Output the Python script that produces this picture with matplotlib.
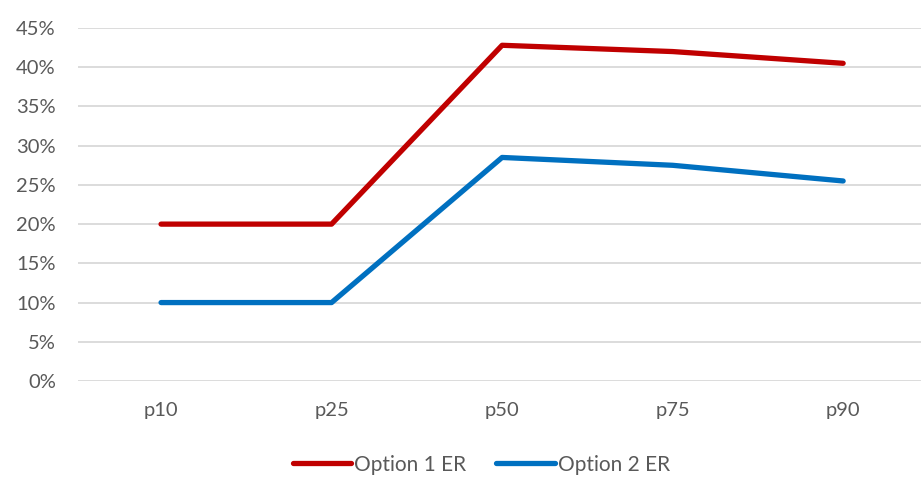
import matplotlib
matplotlib.use("Agg")
import matplotlib.pyplot as plt
from matplotlib.ticker import FuncFormatter, MultipleLocator

percentiles = ["p10", "p25", "p50", "p75", "p90"]
option1_er = [20.0, 20.0, 42.8, 42.0, 40.5]
option2_er = [10.0, 10.0, 28.5, 27.5, 25.5]

TEXT = "#595959"
GRID = "#D9D9D9"

plt.rcParams["font.family"] = ["Lato", "DejaVu Sans"]

fig = plt.figure(figsize=(9.22, 4.84), dpi=100)
ax = fig.add_axes([0.0846, 0.2128, 0.9144, 0.7293])

x = range(len(percentiles))
ax.plot(x, option1_er, color="#C00000", lw=3.8, solid_capstyle="round",
        solid_joinstyle="round", label="Option 1 ER")
ax.plot(x, option2_er, color="#0070C0", lw=3.8, solid_capstyle="round",
        solid_joinstyle="round", label="Option 2 ER")

ax.set_xlim(-0.487, 4.457)
ax.set_ylim(0, 45)
ax.yaxis.set_major_locator(MultipleLocator(5))
ax.yaxis.set_major_formatter(FuncFormatter(lambda v, _: f"{v:.0f}%"))
ax.set_xticks(list(x))
ax.set_xticklabels(percentiles)

ax.grid(axis="y", color=GRID, lw=1.3)
ax.set_axisbelow(True)
for s in ax.spines.values():
    s.set_visible(False)
ax.tick_params(axis="both", length=0, colors=TEXT, labelsize=14.5)
ax.tick_params(axis="y", pad=16)
ax.tick_params(axis="x", pad=15)

fig.legend(loc="center", bbox_to_anchor=(0.522, 0.04), ncol=2, frameon=False,
           fontsize=15, labelcolor=TEXT, handlelength=2.8, handletextpad=0.15,
           columnspacing=1.45)

fig.savefig("out.png", dpi=100)
